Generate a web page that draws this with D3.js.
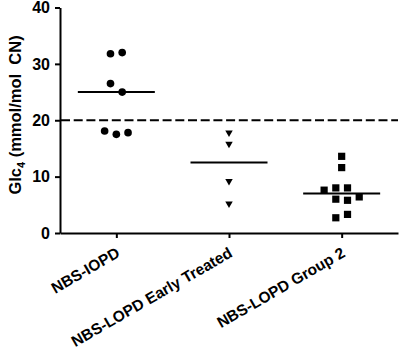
<!DOCTYPE html>
<html>
<head>
<meta charset="utf-8">
<script src="https://cdn.jsdelivr.net/npm/d3@7"></script>
<style>
  body { margin: 0; background: #fff; }
  svg text { font-family: "Liberation Sans", Arial, sans-serif; font-weight: bold; }
</style>
</head>
<body>
<div id="chart"></div>
<script>
// Groups and their values (Glc4, mmol/mol CN)
const groups = ["NBS-IOPD", "NBS-LOPD Early Treated", "NBS-LOPD Group 2"];
const iopd = [31.8, 32.0, 26.5, 25.0, 18.1, 17.5, 17.8];
const earlyTreated = [17.8, 15.8, 9.2, 5.2];
const group2 = [13.6, 11.6, 7.6, 8.0, 8.0, 6.4, 6.0, 5.8, 2.7, 3.3];
const yTicks = [0, 10, 20, 30, 40];
const cutoff = 20;

const series = [iopd, earlyTreated, group2];
const shapes = [d3.symbolCircle, d3.symbolTriangle, d3.symbolSquare];
const shapeSizes = [46, 24, 52];

const W = 400, H = 350;
const svg = d3.select("#chart").append("svg")
    .attr("width", W)
    .attr("height", H);

const x = d3.scalePoint()
    .domain(groups)
    .range([60, 398])
    .padding(0.5);

const y = d3.scaleLinear()
    .domain([0, 40])
    .range([233, 7.5]);

// Y axis
const yAxis = svg.append("g")
    .attr("transform", "translate(60,0)")
    .call(d3.axisLeft(y).tickValues(yTicks).tickSize(5).tickSizeOuter(0).tickPadding(5));
yAxis.selectAll("path, line").attr("stroke", "#000").attr("stroke-width", 2);
yAxis.selectAll("text").style("font-size", "16px").attr("fill", "#000");

// X axis
const xAxis = svg.append("g")
    .attr("transform", "translate(0,233)")
    .call(d3.axisBottom(x).tickSize(5).tickSizeOuter(0));
xAxis.selectAll("path, line").attr("stroke", "#000").attr("stroke-width", 2);
xAxis.selectAll(".tick text")
    .style("font-size", "15.5px")
    .attr("fill", "#000")
    .attr("text-anchor", "end")
    .attr("x", 0).attr("y", 0).attr("dy", 0)
    .attr("transform", "translate(4,23) rotate(-30)");

// Y label
const ylab = svg.append("text")
    .attr("transform", "translate(21,115) rotate(-90)")
    .attr("text-anchor", "middle")
    .style("font-size", "16.5px")
    .style("white-space", "pre");
ylab.append("tspan").text("Glc");
ylab.append("tspan").attr("dy", 4).style("font-size", "11px").text("4");
ylab.append("tspan").attr("dy", -4).text(" (mmol/mol  CN)");

// cutoff line
svg.append("line")
    .attr("x1", 61).attr("x2", 398)
    .attr("y1", y(cutoff)).attr("y2", y(cutoff))
    .attr("stroke", "#000")
    .attr("stroke-width", 2)
    .attr("stroke-dasharray", "9,3.7");

// spread points that sit at about the same height side by side
const step = 11.7;
function dodge(values) {
    const order = values.map((v, i) => i).sort((a, b) => values[b] - values[a]);
    const rows = [];
    order.forEach(i => {
        const row = rows[rows.length - 1];
        if (row && Math.abs(y(values[row[0]]) - y(values[i])) < 10) row.push(i);
        else rows.push([i]);
    });
    const off = [];
    rows.forEach(row => {
        row.sort((a, b) => a - b);
        row.forEach((i, k) => { off[i] = (k - (row.length - 1) / 2) * step; });
    });
    return values.map((v, i) => ({ value: v, dx: off[i] }));
}

series.forEach((vals, gi) => {
    const cx = x(groups[gi]);
    const pts = dodge(vals);
    svg.append("g").selectAll("path")
        .data(pts)
        .enter()
        .append("path")
        .attr("d", d3.symbol().type(shapes[gi]).size(shapeSizes[gi]))
        .attr("transform", d => `translate(${cx + d.dx},${y(d.value)})` + (gi === 1 ? " rotate(180)" : ""))
        .attr("fill", "#000");

    // median line
    const med = d3.median(vals);
    svg.append("line")
        .attr("x1", cx - 38.5).attr("x2", cx + 38.5)
        .attr("y1", y(med)).attr("y2", y(med))
        .attr("stroke", "#000")
        .attr("stroke-width", 2);
});
</script>
</body>
</html>
